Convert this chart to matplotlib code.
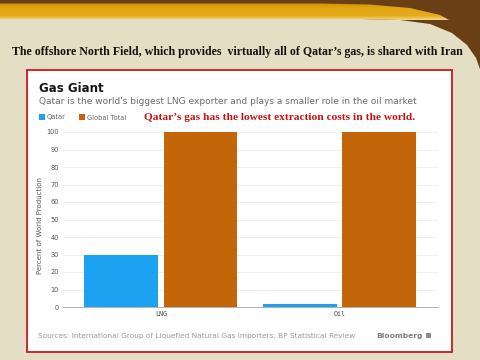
import matplotlib.pyplot as plt
import numpy as np
from matplotlib.patches import Polygon, Rectangle
from matplotlib.colors import LinearSegmentedColormap

# -----------------------------
# Data
# -----------------------------
categories = ["LNG", "Oil"]
qatar = [30, 2]
global_total = [100, 100]
yticks = [0, 10, 20, 30, 40, 50, 60, 70, 80, 90, 100]

W, H = 481, 360
fig = plt.figure(figsize=(W / 100, H / 100), dpi=100)
fig.patch.set_facecolor("#e4dfc4")

# slide background / decoration (pixel coordinates)
bg = fig.add_axes([0, 0, 1, 1])
bg.set_xlim(0, W)
bg.set_ylim(H, 0)
bg.axis("off")

beige_edge = [(481, 72), (476, 58), (467, 45), (452, 33), (430, 24), (400, 20), (360, 19), (0, 19)]
gold_top = [(0, 3.5), (320, 3.5), (370, 4.5), (410, 8), (440, 15), (460, 26), (472, 40), (481, 62)]

bg.add_patch(Polygon([(0, 0), (481, 0)] + beige_edge, closed=True,
                     facecolor="#6a3f16", edgecolor="none"))
gold = Polygon(gold_top + beige_edge[1:], closed=True, facecolor="none", edgecolor="none")
bg.add_patch(gold)
grad = np.linspace(0, 1, 100).reshape(-1, 1)
gold_cmap = LinearSegmentedColormap.from_list(
    "g", [(0, "#cf900a"), (0.3, "#e2a612"), (0.75, "#e4ab1c"), (1, "#f4d985")])
im = bg.imshow(grad, extent=[0, 481, 20, 3], cmap=gold_cmap, aspect="auto", zorder=1)
im.set_clip_path(gold)

bg.text(237, 52, "The offshore North Field, which provides  virtually all of Qatar\u2019s gas, is shared with Iran",
        ha="center", va="center", fontsize=8.6, fontweight="bold", family="Liberation Serif", color="#111111")

# white chart box with red border
bg.add_patch(Rectangle((27, 70), 425, 282, facecolor="white", edgecolor="#c41a1a", linewidth=1.3, zorder=2))

bg.text(39, 88, "Gas Giant", ha="left", va="center", fontsize=8.5, fontweight="bold", color="#151515", zorder=3)
bg.text(39, 101, "Qatar is the world's biggest LNG exporter and plays a smaller role in the oil market",
        ha="left", va="center", fontsize=6.5, color="#6a6a6a", zorder=3)

# legend
bg.add_patch(Rectangle((39, 114), 6, 6, facecolor="#1ba3f2", edgecolor="none", zorder=3))
bg.text(47, 117.5, "Qatar", ha="left", va="center", fontsize=4.8, color="#666666", zorder=3)
bg.add_patch(Rectangle((79, 114), 6, 6, facecolor="#c3660a", edgecolor="none", zorder=3))
bg.text(87, 117.5, "Global Total", ha="left", va="center", fontsize=4.8, color="#666666", zorder=3)

bg.text(280, 117, "Qatar\u2019s gas has the lowest extraction costs in the world.",
        ha="center", va="center", fontsize=8.2, fontweight="bold", family="Liberation Serif",
        color="#cc1010", zorder=3)

bg.text(40, 225, "Percent of World Production", rotation=90, ha="center", va="center",
        fontsize=5.0, color="#555555", zorder=3)

bg.text(38, 336, "Sources: International Group of Liquefied Natural Gas Importers; BP Statistical Review",
        ha="left", va="center", fontsize=5.35, color="#9a9a9a", zorder=3)
bg.text(423, 336, "Bloomberg", ha="right", va="center", fontsize=5.4, fontweight="bold",
        color="#7a7a7a", zorder=3)
bg.add_patch(Rectangle((426, 333), 5, 5, facecolor="#8a8a8a", edgecolor="none", zorder=3))

# -----------------------------
# Bar chart
# -----------------------------
ax = fig.add_axes([63 / W, 1 - 307 / H, 375 / W, 175 / H])
ax.set_facecolor("none")
x = np.arange(len(categories))
width = 0.415
off = 0.222
ax.bar(x - off, qatar, width, color="#1ba3f2", zorder=3)
ax.bar(x + off, global_total, width, color="#c3660a", zorder=3)

ax.set_xlim(-0.55, 1.555)
ax.set_ylim(0, 100)
ax.set_yticks(yticks)
ax.set_yticklabels([str(v) for v in yticks], fontsize=4.8, color="#555555")
ax.set_xticks(x)
ax.set_xticklabels(categories, fontsize=4.8, color="#444444", family="DejaVu Sans Mono")
ax.tick_params(axis="both", length=0, pad=3)
ax.grid(axis="y", color="#ececec", linewidth=0.6, zorder=0)
for s in ["top", "right", "left"]:
    ax.spines[s].set_visible(False)
ax.spines["bottom"].set_color("#b0b0b0")
ax.spines["bottom"].set_linewidth(0.7)

fig.savefig("out.png", dpi=100)
